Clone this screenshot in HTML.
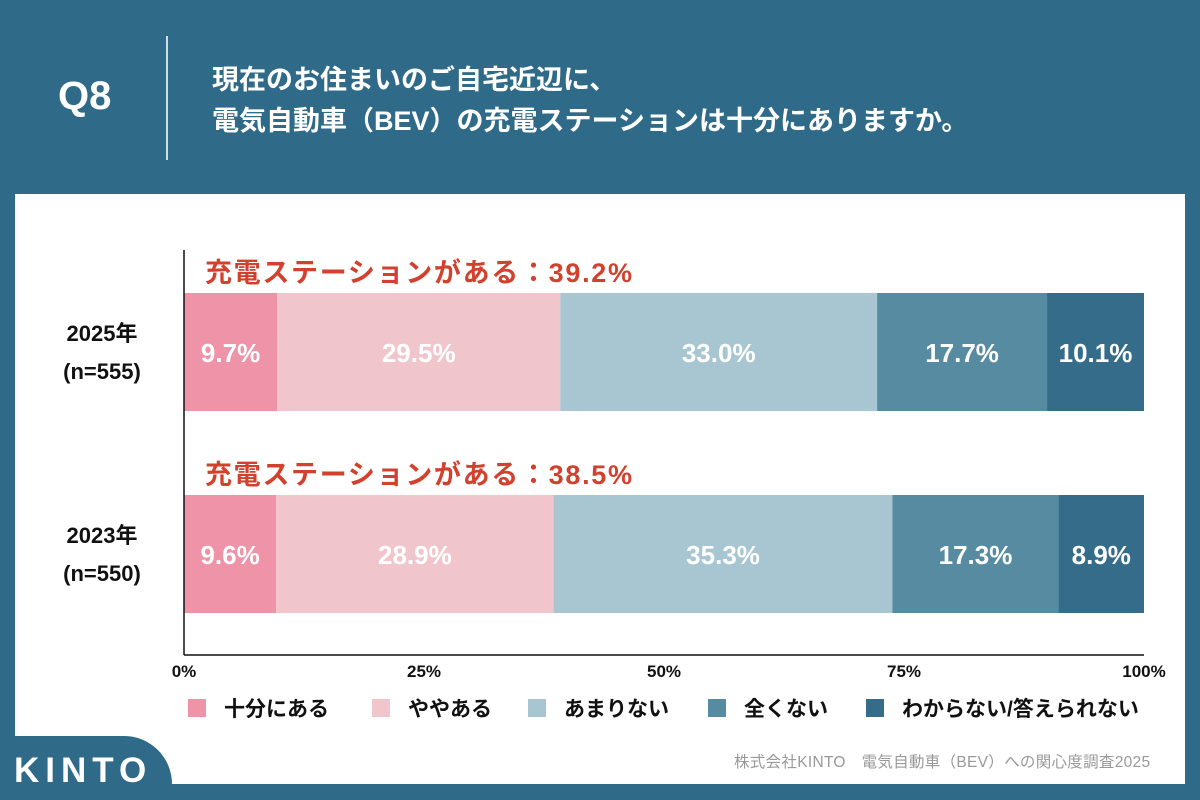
<!DOCTYPE html>
<html><head><meta charset="utf-8">
<style>
body{margin:0;width:1200px;height:800px;overflow:hidden;background:#2f6b89;font-family:"Liberation Sans","Noto Sans CJK JP",sans-serif;position:relative}
.abs{position:absolute}
</style></head><body>
<div class="abs" style="left:58px;top:74px;font-size:40px;font-weight:bold;color:#fff">Q8</div>
<div class="abs" style="left:166px;top:36px;width:2px;height:124px;background:#cfdde5"></div>
<div class="abs" style="left:212px;top:60px;font-size:27px;font-weight:bold;color:#fff;line-height:41px">現在のお住まいのご自宅近辺に、<br>電気自動車（BEV）の充電ステーションは十分にありますか。</div>
<div class="abs" style="left:15px;top:194px;width:1170px;height:590px;background:#fff"></div>
<div class="abs" style="left:0;top:736px;width:172px;height:64px;background:#2f6b89;border-top-right-radius:48px"></div>
<div class="abs" style="left:14px;top:751px;font-size:35px;font-weight:bold;color:#fff;letter-spacing:6px">KINTO</div>
<div class="abs" style="left:734px;top:750px;font-size:15.5px;color:#999;letter-spacing:0.3px">株式会社KINTO　電気自動車（BEV）への関心度調査2025</div>
<svg class="abs" style="left:0;top:0" width="1200" height="800" id="chart"></svg>
<script>
const categories=["2025年","2023年"];
const samples=["(n=555)","(n=550)"];
const seriesNames=["十分にある","ややある","あまりない","全くない","わからない/答えられない"];
const v2025=[9.7,29.5,33.0,17.7,10.1];
const v2023=[9.6,28.9,35.3,17.3,8.9];
const totals=["39.2%","38.5%"];
const ticks=[0,25,50,75,100];
const colors=["#ee93a8","#f0c6cc","#a7c6d1","#578ba1","#346c8a"];
const rows=[v2025,v2023];
const svg=document.getElementById('chart');
const NS="http://www.w3.org/2000/svg";
const x0=184,x1=1144;
const xs=v=>x0+(x1-x0)*v/100;
const rowY=i=>293+i*202, bh=118;
function mk(t,a,txt){const e=document.createElementNS(NS,t);for(const k in a)e.setAttribute(k,a[k]);if(txt!==undefined)e.textContent=txt;svg.appendChild(e);return e;}
rows.forEach((vals,i)=>{
 const sum=vals.reduce((a,b)=>a+b,0);let acc=0;
 vals.forEach((v,j)=>{
  const r=mk('rect',{x:xs(acc/sum*100),y:rowY(i),width:xs((acc+v)/sum*100)-xs(acc/sum*100),height:bh,fill:colors[j]});
  
  
  const t=mk('text',{x:xs((acc+v/2)/sum*100),y:rowY(i)+bh/2+10,'text-anchor':'middle','font-size':26,'font-weight':'bold',fill:'#fff'},v.toFixed(1)+'%');
  
  
  acc+=v;
 });
 const tt=mk('text',{x:205,y:rowY(i)-11,'font-size':27,'font-weight':'bold',fill:'#d2412e',textLength:427,lengthAdjust:'spacing'},'充電ステーションがある：'+totals[i]);
 
 
 const c=mk('text',{x:102,y:rowY(i)+48,'text-anchor':'middle','font-size':22,'font-weight':'bold',fill:'#111'},categories[i]);
 
 
 const s=mk('text',{x:102,y:rowY(i)+86,'text-anchor':'middle','font-size':22,'font-weight':'bold',fill:'#111'},samples[i]);
 
 
});
const ya=mk('line',{x1:x0,y1:250,x2:x0,y2:655,stroke:'#111','stroke-width':1.5});


const xa=mk('line',{x1:x0,y1:655,x2:x1,y2:655,stroke:'#111','stroke-width':1.5});


ticks.forEach(t=>{
 const e=mk('text',{x:xs(t),y:677,'text-anchor':'middle','font-size':17,'font-weight':'bold',fill:'#111'},t+'%');
 
 
});
const lx=[188,372,528,708,866];
seriesNames.forEach((n,j)=>{
 const r=mk('rect',{x:lx[j],y:699,width:18,height:18,fill:colors[j]});
 
 
 const t=mk('text',{x:lx[j]+36,y:716,'font-size':21,'font-weight':'bold',fill:'#111'},n);
 
 
});
</script>
</body></html>
